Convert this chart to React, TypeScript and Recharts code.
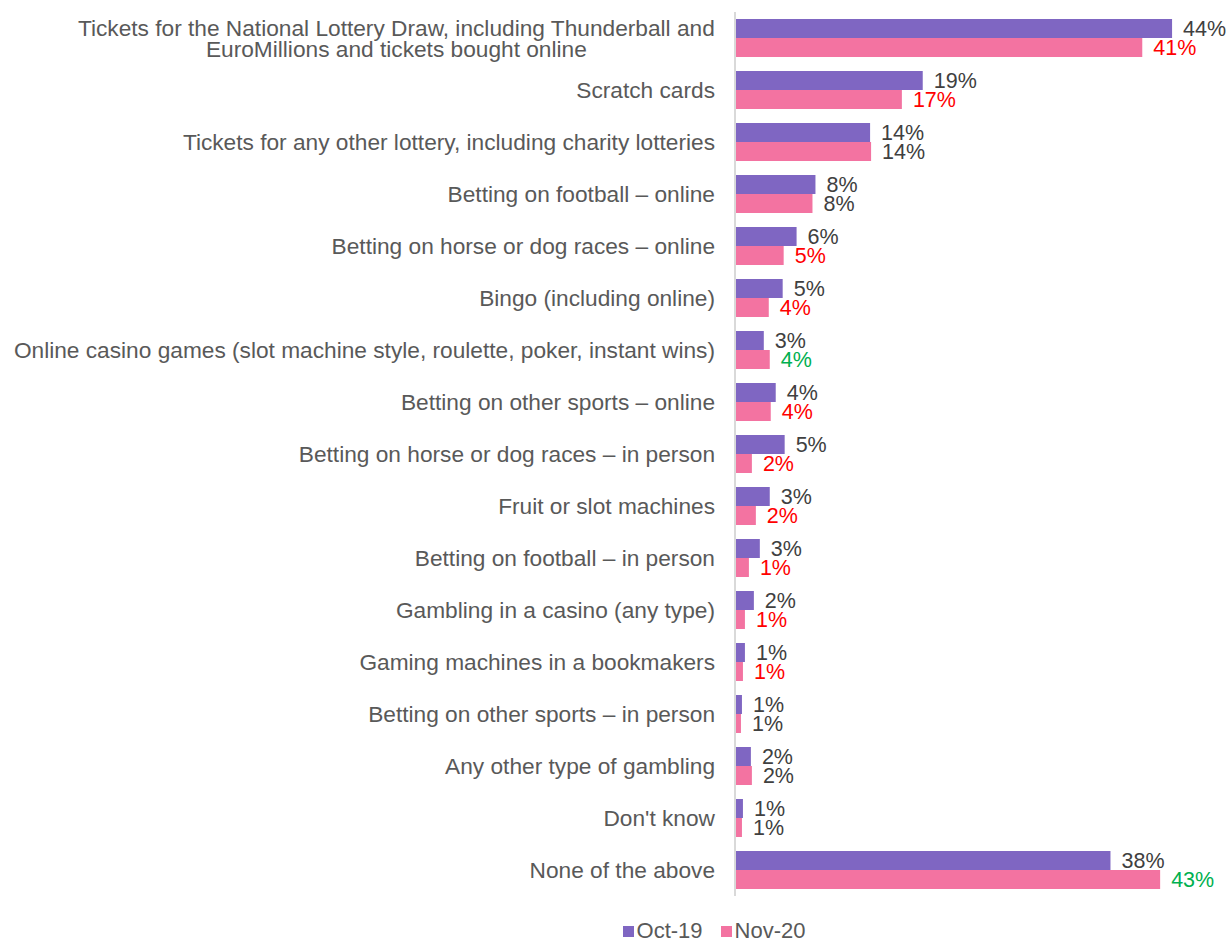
import React from "react";
import { BarChart, Bar, XAxis, YAxis, LabelList } from "recharts";

const categories = [
  "Tickets for the National Lottery Draw, including Thunderball and\nEuroMillions and tickets bought online",
  "Scratch cards",
  "Tickets for any other lottery, including charity lotteries",
  "Betting on football \u2013 online",
  "Betting on horse or dog races \u2013 online",
  "Bingo (including online)",
  "Online casino games (slot machine style, roulette, poker, instant wins)",
  "Betting on other sports \u2013 online",
  "Betting on horse or dog races \u2013 in person",
  "Fruit or slot machines",
  "Betting on football \u2013 in person",
  "Gambling in a casino (any type)",
  "Gaming machines in a bookmakers",
  "Betting on other sports \u2013 in person",
  "Any other type of gambling",
  "Don't know",
  "None of the above",
];

// bar lengths
const oct19 = [44, 18.9, 13.6, 8.1, 6.2, 4.8, 2.9, 4.1, 5.0, 3.5, 2.5, 1.9, 1.0, 0.7, 1.6, 0.8, 37.8];
const nov20 = [41, 16.8, 13.7, 7.8, 4.9, 3.4, 3.5, 3.6, 1.7, 2.1, 1.4, 1.0, 0.8, 0.6, 1.7, 0.7, 42.8];

// printed labels
const oct19Labels = ["44%", "19%", "14%", "8%", "6%", "5%", "3%", "4%", "5%", "3%", "3%", "2%", "1%", "1%", "2%", "1%", "38%"];
const nov20Labels = ["41%", "17%", "14%", "8%", "5%", "4%", "4%", "4%", "2%", "2%", "1%", "1%", "1%", "1%", "2%", "1%", "43%"];

// significance colouring of the Nov-20 labels
const RED = "#FF0000";
const GREEN = "#00B050";
const GREY = "#404040";
const nov20LabelColors = [RED, RED, GREY, GREY, RED, RED, GREEN, RED, RED, RED, RED, RED, RED, GREY, GREY, GREY, GREEN];

const PURPLE = "#7F66C2";
const PINK = "#F373A1";
const FONT = "'Liberation Sans', Arial, sans-serif";

const data = categories.map((name, i) => ({
  name,
  oct: oct19[i],
  nov: nov20[i],
}));

let measureCtx: CanvasRenderingContext2D | null = null;
function textWidth(s: string, size: number) {
  if (!measureCtx) measureCtx = document.createElement("canvas").getContext("2d");
  if (!measureCtx) return s.length * size * 0.5;
  measureCtx.font = `${size}px 'Liberation Sans'`;
  return measureCtx.measureText(s).width;
}

function CategoryTick(props: any) {
  const { x, y, payload } = props;
  const lines = String(payload.value).split("\n");
  const size = 22.7;
  const right = x - 12;
  if (lines.length === 1) {
    return (
      <text x={right} y={y} textAnchor="end" dominantBaseline="central" fontSize={size} fill="#595959" fontFamily={FONT}>
        {lines[0]}
      </text>
    );
  }
  const w = Math.max(...lines.map((l) => textWidth(l, size)));
  const cx = right - w / 2;
  const lh = 21;
  const start = y - ((lines.length - 1) * lh) / 2;
  return (
    <text textAnchor="middle" fontSize={size} fill="#595959" fontFamily={FONT}>
      {lines.map((l, i) => (
        <tspan key={i} x={cx} y={start + i * lh} dominantBaseline="central">
          {l}
        </tspan>
      ))}
    </text>
  );
}

function makeLabel(labels: string[], colors: string[] | null) {
  return (props: any) => {
    const { x, y, width, height, index } = props;
    return (
      <text
        x={x + width + 11}
        y={y + height / 2}
        dominantBaseline="central"
        fontSize={21.5}
        fontFamily={FONT}
        fill={colors ? colors[index] : GREY}
      >
        {labels[index]}
      </text>
    );
  };
}

export default function App() {
  return (
    <div style={{ position: "absolute", left: 0, top: 0, width: 1232, height: 941, background: "#fff" }}>
      <BarChart
        width={1232}
        height={941}
        data={data}
        layout="vertical"
        margin={{ top: 12, right: 50, bottom: 45, left: 0 }}
        barCategoryGap={7}
        barGap={0}
      >
        <XAxis type="number" domain={[0, 45]} hide />
        <YAxis
          type="category"
          dataKey="name"
          width={735}
          interval={0}
          tickLine={false}
          axisLine={{ stroke: "#D9D9D9", strokeWidth: 2 }}
          tick={<CategoryTick />}
        />
        <Bar dataKey="oct" fill={PURPLE} isAnimationActive={false}>
          <LabelList dataKey="oct" content={makeLabel(oct19Labels, null)} />
        </Bar>
        <Bar dataKey="nov" fill={PINK} isAnimationActive={false}>
          <LabelList dataKey="nov" content={makeLabel(nov20Labels, nov20LabelColors)} />
        </Bar>
      </BarChart>
      <div
        style={{
          position: "absolute",
          top: 918,
          left: 0,
          width: 1232,
          display: "flex",
          justifyContent: "center",
          paddingLeft: 196,
          boxSizing: "border-box",
          fontFamily: FONT,
          fontSize: 22,
          color: "#595959",
          gap: 18,
        }}
      >
        {[
          { label: "Oct-19", color: PURPLE },
          { label: "Nov-20", color: PINK },
        ].map((it) => (
          <div key={it.label} style={{ display: "flex", alignItems: "center", gap: 3 }}>
            <span style={{ display: "inline-block", width: 11, height: 11, background: it.color }} />
            <span>{it.label}</span>
          </div>
        ))}
      </div>
    </div>
  );
}
